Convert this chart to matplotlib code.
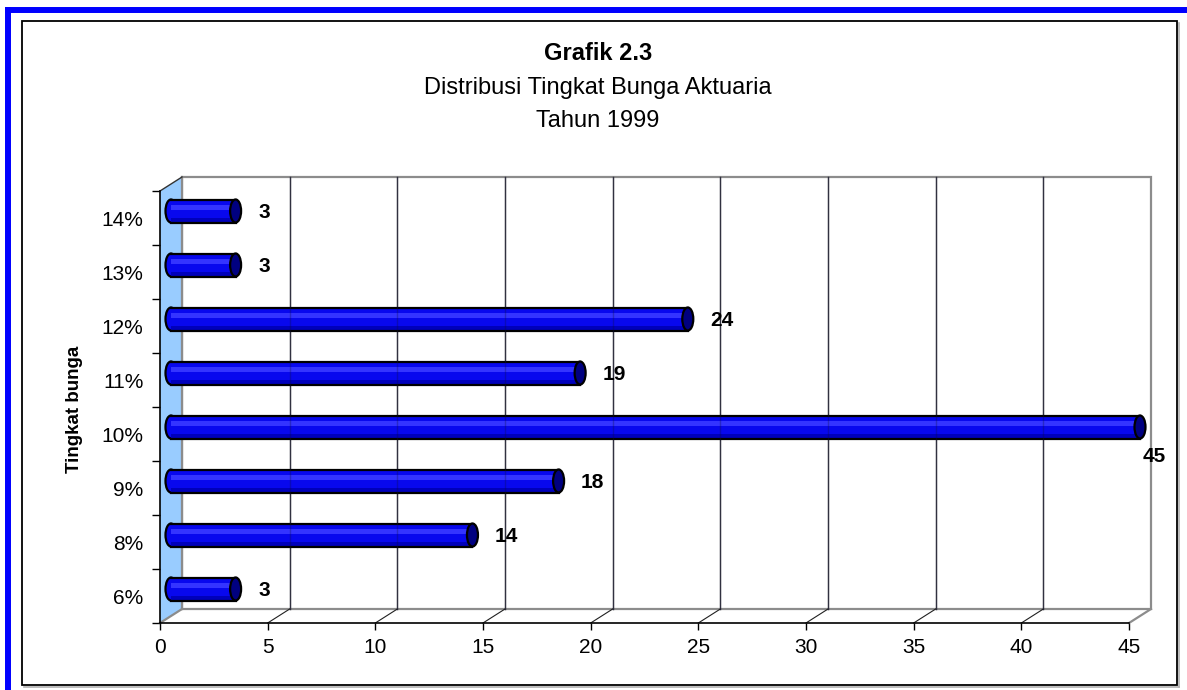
import matplotlib
matplotlib.use("Agg")
import matplotlib.pyplot as plt
from matplotlib.patches import Rectangle, Ellipse, Polygon
from matplotlib.lines import Line2D
import numpy as np

# data
categories = ["6%", "8%", "9%", "10%", "11%", "12%", "13%", "14%"]
values = [3, 14, 18, 45, 19, 24, 3, 3]
xticks = [0, 5, 10, 15, 20, 25, 30, 35, 40, 45]

title1 = "Grafik 2.3"
title2 = "Distribusi Tingkat Bunga Aktuaria"
title3 = "Tahun 1999"
ylabel = "Tingkat bunga"

W, H = 1187, 690
DPI = 100
plt.rcParams['font.family'] = ['Liberation Sans', 'DejaVu Sans']

fig = plt.figure(figsize=(W / DPI, H / DPI), dpi=DPI)
ax = fig.add_axes([160 / W, 1 - 623 / H, (1129 - 160) / W, (623 - 191) / H])
xmax = xticks[-1]
n = len(categories)
ax.set_xlim(0, xmax)
ax.set_ylim(-0.5, n - 0.5)

# pixel size of one data unit, used for the fake 3d depth
bb = ax.get_position()
px_x = bb.width * W / xmax
px_y = bb.height * H / n
dx = 22 / px_x
dy = 14 / px_y
y0 = -0.5
y1 = n - 0.5

wall = '#8c8c8c'
# back wall
ax.add_patch(Rectangle((dx, y0 + dy), xmax, n, facecolor='white', edgecolor=wall,
                       lw=1.6, clip_on=False, zorder=1))
# side wall
ax.add_patch(Polygon([(0, y0), (dx, y0 + dy), (dx, y1 + dy), (0, y1)], closed=True,
                     facecolor='#99ccff', edgecolor='none', clip_on=False, zorder=1))
ax.add_line(Line2D([dx, dx], [y0 + dy, y1 + dy], color=wall, lw=1.6, clip_on=False, zorder=2))
ax.add_line(Line2D([0, dx], [y1, y1 + dy], color='#333333', lw=1, clip_on=False, zorder=2))
ax.add_line(Line2D([0, dx], [y0, y0 + dy], color=wall, lw=1.6, clip_on=False, zorder=2))
ax.add_line(Line2D([xmax, xmax + dx], [y0, y0 + dy], color=wall, lw=1.6, clip_on=False, zorder=2))

# gridlines on back wall and the floor slants
for k in xticks[1:-1]:
    ax.add_line(Line2D([k + dx, k + dx], [y0 + dy, y1 + dy], color='#404040', lw=1,
                       clip_on=False, zorder=2))
    ax.add_line(Line2D([k, k + dx], [y0, y0 + dy], color='#202020', lw=0.8,
                       clip_on=False, zorder=2))

# cylinders
h = 23 / px_y
ew = 11 / px_x
x0 = dx / 2
for i, v in enumerate(values):
    cy = i + dy / 2
    ax.add_patch(Ellipse((x0, cy), ew, h, facecolor='#0808ee', edgecolor='black', lw=1.6,
                         clip_on=False, zorder=4))
    ax.add_patch(Rectangle((x0, cy - h / 2), v, h, facecolor='#0808ee', edgecolor='none',
                           clip_on=False, zorder=5))
    ax.add_patch(Rectangle((x0, cy - h / 2), v, h * 0.2, facecolor='#0000bb', edgecolor='none',
                           clip_on=False, zorder=5))
    ax.add_patch(Rectangle((x0, cy + h * 0.06), v, h * 0.22, facecolor='#3434ff', edgecolor='none',
                           clip_on=False, zorder=5))
    for yy in (cy - h / 2, cy + h / 2):
        ax.add_line(Line2D([x0, x0 + v], [yy, yy], color='black', lw=1.6, clip_on=False, zorder=6))
    ax.add_patch(Ellipse((x0 + v, cy), ew, h, facecolor='#000080', edgecolor='black', lw=1.6,
                         clip_on=False, zorder=7))
    if v >= xmax - 2:
        off = (ew * px_x / 2 - 3, -29)
    else:
        off = (ew * px_x / 2 + 17, -2)
    ax.annotate(str(v), xy=(x0 + v, cy), xytext=off, textcoords='offset pixels',
                ha='left', va='center', fontsize=15, fontweight='bold', zorder=8,
                annotation_clip=False)

# gridlines show faintly through the bars
for k in xticks[1:-1]:
    ax.add_line(Line2D([k + dx, k + dx], [y0 + dy, y1 + dy], color='#101040', lw=1,
                       alpha=0.3, clip_on=False, zorder=6))

for s in ('top', 'right'):
    ax.spines[s].set_visible(False)
for s in ('left', 'bottom'):
    ax.spines[s].set_linewidth(1.2)
    ax.spines[s].set_zorder(3)
ax.set_facecolor('none')

ax.set_xticks(xticks)
ax.set_xticklabels([str(t) for t in xticks], fontsize=15)
ax.tick_params(axis='x', direction='out', length=5, width=1, pad=6)
ax.set_yticks(np.arange(-0.5, n, 1))
ax.set_yticklabels([])
ax.set_yticks(np.arange(n), minor=True)
ax.set_yticklabels(categories, minor=True, fontsize=15)
ax.tick_params(axis='y', which='major', direction='out', length=6, width=1)
ax.tick_params(axis='y', which='minor', length=0, pad=12)

fig.text(75 / W, 1 - 409 / H, ylabel, rotation=90, ha='center', va='center',
         fontsize=13.5, fontweight='bold')

fig.text(598 / W, 1 - 53 / H, title1, ha='center', va='center', fontsize=17, fontweight='bold')
fig.text(598 / W, 1 - 88 / H, title2, ha='center', va='center', fontsize=17)
fig.text(598 / W, 1 - 121 / H, title3, ha='center', va='center', fontsize=17)

# page frames
fig.add_artist(Line2D([5 / W, 1], [1 - 10 / H] * 2, transform=fig.transFigure,
                      color='#0000ff', lw=4.3, solid_capstyle='butt'))
fig.add_artist(Line2D([8 / W] * 2, [1 - 7 / H, 0], transform=fig.transFigure,
                      color='#0000ff', lw=4.3, solid_capstyle='butt'))
fig.add_artist(Rectangle((22 / W, 1 - 685 / H), (1177 - 22) / W, (685 - 21) / H,
                         transform=fig.transFigure, fill=False, edgecolor='black', lw=1.3))
fig.add_artist(Line2D([1179 / W] * 2, [1 - 23 / H, 1 - 687 / H], transform=fig.transFigure,
                      color='#b0b0b0', lw=1.2))
fig.add_artist(Line2D([24 / W, 1179 / W], [1 - 687 / H] * 2, transform=fig.transFigure,
                      color='#b0b0b0', lw=1.2))

fig.savefig('out.png', dpi=DPI)
